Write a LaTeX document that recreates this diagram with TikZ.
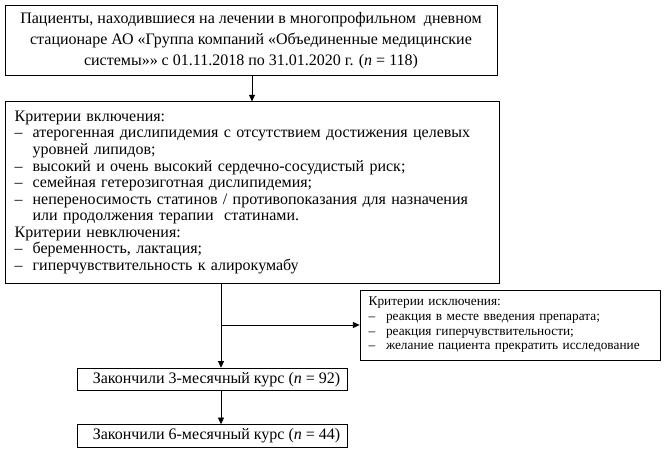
\documentclass[tikz,border=0pt]{standalone}
\usepackage{fontspec}
\setmainfont{Liberation Serif}
\usetikzlibrary{positioning,arrows.meta}

\begin{document}
\begin{tikzpicture}[x=0.75pt, y=-0.75pt, >={Triangle[length=5pt,width=4.5pt]}, line width=0.6pt,
        stagebox/.style={draw, inner sep=0pt, align=center, font=\fontsize{12}{15.5}\selectfont},
        critbox/.style={draw, inner sep=0pt, anchor=center, font=\fontsize{12}{12.4}\selectfont},
        smallcrit/.style={draw, inner sep=0pt, font=\fontsize{10}{11}\selectfont}]
        \useasboundingbox (0,0) rectangle (664,459);
        \node[stagebox, minimum width=369pt, minimum height=53pt] (patients) at (251,40.5)
            {Пациенты, находившиеся на лечении в многопрофильном \ дневном\\
             стационаре АО «Группа компаний «Объединенные медицинские\\
             системы»» с 01.11.2018 по 31.01.2020 г. (\textit{n} = 118)};
        \node[critbox, minimum width=370.5pt, minimum height=136pt, text width=356pt] (criteria) at (252,192.5)
            {\begin{tabular}{@{}p{13.5pt}@{}l@{}}
             \multicolumn{2}{@{}l}{Критерии включения:}\\
             – & атерогенная дислипидемия с отсутствием достижения целевых\\
               & уровней липидов;\\
             – & высокий и очень высокий сердечно-сосудистый риск;\\
             – & семейная гетерозиготная дислипидемия;\\
             – & непереносимость статинов / противопоказания для назначения\\
               & или продолжения терапии \ статинами.\\
             \multicolumn{2}{@{}l}{Критерии невключения:}\\
             – & беременность, лактация;\\
             – & гиперчувствительность к алирокумабу
             \end{tabular}};
        \node[smallcrit, minimum width=225pt, minimum height=52.5pt, text width=212pt] (exclusion) at (510,325)
            {\begin{tabular}{@{}p{13pt}@{}l@{}}
             \multicolumn{2}{@{}l}{Критерии исключения:}\\
             – & реакция в месте введения препарата;\\
             – & реакция гиперчувствительности;\\
             – & желание пациента прекратить исследование
             \end{tabular}};
        \node[stagebox, minimum width=202pt, minimum height=17pt] (month3) at (212.5,379.5)
            {\ \ Закончили 3-месячный курс (\textit{n} = 92)};
        \node[stagebox, minimum width=202pt, minimum height=17pt] (month6) at (212.5,436)
            {\ \ Закончили 6-месячный курс (\textit{n} = 44)};
        \coordinate (branch) at (221,325);
        \draw[->] (patients.south -| criteria.north) -- (criteria.north);
        \draw (criteria.south -| branch) -- (branch);
        \draw[->] (branch) -- (month3.north -| branch);
        \draw[->] (branch) -- (exclusion.west);
        \draw[->] (month3.south -| branch) -- (month6.north -| branch);
    \end{tikzpicture}
\end{document}
